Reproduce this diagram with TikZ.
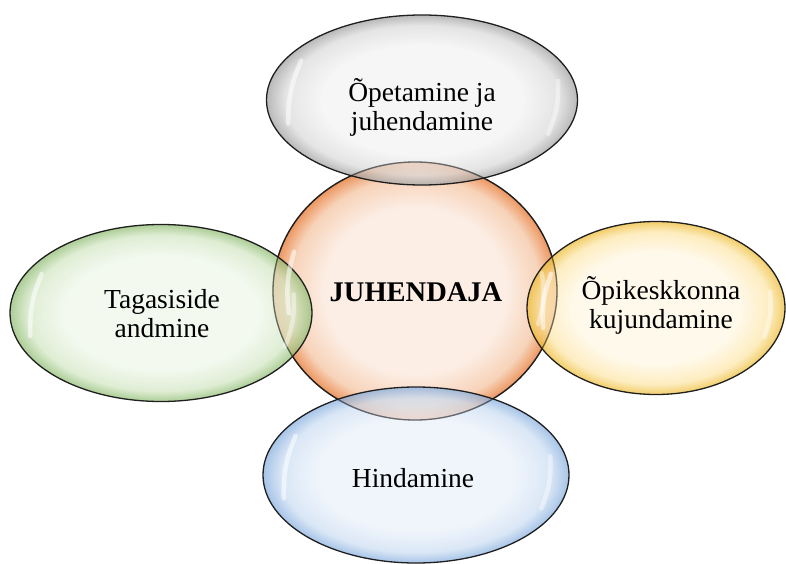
\documentclass[tikz,border=0pt]{standalone}
\usepackage{fontspec}
\setmainfont{Liberation Serif}
\usetikzlibrary{shapes.geometric,calc}
\definecolor{grayin}{HTML}{F3F3F3}\definecolor{graymid}{HTML}{DADADA}\definecolor{grayout}{HTML}{9E9E9E}
\definecolor{orgin}{HTML}{FCEEE5}\definecolor{orgmid}{HTML}{F7D3B9}\definecolor{orgout}{HTML}{EC9660}
\definecolor{grnin}{HTML}{EEF6E9}\definecolor{grnmid}{HTML}{D3E7C4}\definecolor{grnout}{HTML}{8CBA6E}
\definecolor{ylwin}{HTML}{FFF7E4}\definecolor{ylwmid}{HTML}{FCE6A8}\definecolor{ylwout}{HTML}{EDBA30}
\definecolor{bluin}{HTML}{EAF1FA}\definecolor{blumid}{HTML}{CBDDF2}\definecolor{bluout}{HTML}{84ADDE}
\pgfdeclareradialshading{shgray}{\pgfpoint{0bp}{0bp}}{color(0bp)=(grayin); color(16bp)=(grayin); color(22bp)=(graymid); color(25bp)=(grayout); color(50bp)=(grayout)}
\pgfdeclareradialshading{shorg}{\pgfpoint{0bp}{0bp}}{color(0bp)=(orgin); color(16bp)=(orgin); color(22bp)=(orgmid); color(25bp)=(orgout); color(50bp)=(orgout)}
\pgfdeclareradialshading{shgrn}{\pgfpoint{0bp}{0bp}}{color(0bp)=(grnin); color(16bp)=(grnin); color(22bp)=(grnmid); color(25bp)=(grnout); color(50bp)=(grnout)}
\pgfdeclareradialshading{shylw}{\pgfpoint{0bp}{0bp}}{color(0bp)=(ylwin); color(16bp)=(ylwin); color(22bp)=(ylwmid); color(25bp)=(ylwout); color(50bp)=(ylwout)}
\pgfdeclareradialshading{shblu}{\pgfpoint{0bp}{0bp}}{color(0bp)=(bluin); color(16bp)=(bluin); color(22bp)=(blumid); color(25bp)=(bluout); color(50bp)=(bluout)}
\tikzset{
  ball/.style={ellipse, draw=black!88, line width=1.3pt, inner sep=0pt},
  outerball/.style={ball, fill opacity=0.72},
  gloss/.style={white, line width=4.5pt, line cap=round, opacity=0.55},
  lbl/.style={align=center, font=\fontsize{27.5}{29}\selectfont, inner sep=0pt},
  centerlbl/.style={font=\fontsize{28.5}{30}\selectfont\bfseries, inner sep=0pt}
}
\begin{document}
\begin{tikzpicture}[x=1pt,y=1pt]
\useasboundingbox (0,0) rectangle (786,-564);
% centre
\node[ball, shading=shorg, minimum width=284pt, minimum height=258pt] (cen) at (415,-291) {};
% outer ellipses
\node[outerball, shading=shgray, minimum width=311pt, minimum height=170pt] (top) at (422,-100) {};
\node[outerball, shading=shgrn, minimum width=302pt, minimum height=177pt] (lft) at (161,-313) {};
\node[outerball, shading=shylw, minimum width=258pt, minimum height=173pt] (rgt) at (656,-308) {};
\node[outerball, shading=shblu, minimum width=306pt, minimum height=176pt] (bot) at (416,-475) {};
% centre outline seen through the overlapping ellipses
\node[ellipse, draw=black!88, line width=1.3pt, draw opacity=0.5, inner sep=0pt, minimum width=284pt, minimum height=258pt] (cenline) at (cen.center) {};
% gloss highlights
\foreach \n in {cen,top,lft,rgt,bot}{
  \draw[gloss] ($(\n.center)!0.9!(\n.162)$) to[bend right=12] ($(\n.center)!0.9!(\n.190)$);
  \draw[gloss, opacity=0.4] ($(\n.center)!0.9!(\n.-15)$) to[bend right=12] ($(\n.center)!0.9!(\n.8)$);
}
% labels
\node[centerlbl] (cent) at (416,-292) {JUHENDAJA};
\node[lbl] (topt) at (422,-107) {Õpetamine ja\\juhendamine};
\node[lbl] (lftt) at (162,-314) {Tagasiside\\andmine};
\node[lbl] (rgtt) at (661,-305) {Õpikeskkonna\\kujundamine};
\node[lbl] (bott) at (413,-478) {Hindamine};
\end{tikzpicture}
\end{document}
